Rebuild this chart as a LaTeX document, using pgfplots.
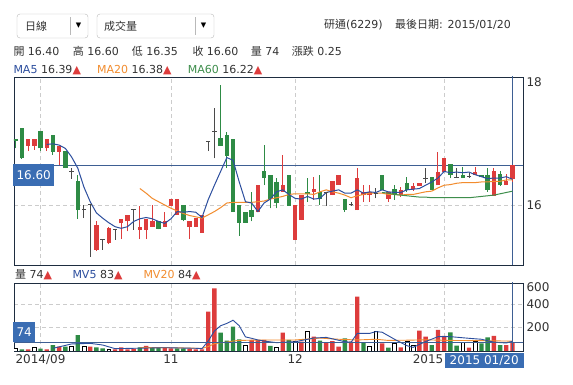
\documentclass[border=0pt]{standalone}
\usepackage{pgfplots}
\pgfplotsset{compat=1.18}
\usepackage{pgfplotstable}
\usepackage{fontspec}
\setmainfont{DejaVu Sans}
\newfontfamily\cjk{Noto Sans CJK TC}
\definecolor{cred}{HTML}{DD3C3C}
\definecolor{cgreen}{HTML}{2E8B45}
\definecolor{cdoji}{HTML}{4A4A4A}
\definecolor{ma5}{HTML}{2C4E9E}
\definecolor{ma20}{HTML}{F28C2E}
\definecolor{ma60}{HTML}{3E8E4C}
\definecolor{boxb}{HTML}{3A6DB3}
\definecolor{frame}{HTML}{1E2D40}
\definecolor{crossc}{HTML}{3E5F93}
\definecolor{gridc}{HTML}{CCCCCC}
\definecolor{txt}{HTML}{333333}
\newcommand\fs{\fontsize{11}{13}\selectfont}
\newcommand\tri{{\color{cred}▲}}
\pgfplotsset{
  candle/.style n args={2}{only marks, mark=*, mark size=0pt,
    mark options={draw opacity=0, fill opacity=0}, forget plot,
    error bars/.cd, y dir=plus, y explicit, error mark=none,
    error bar style={line width=#1, draw=#2, draw opacity=1}},
}

% candles: i low high bodylow bodyhigh
\pgfplotstableread{
i l h bl bh
2 16.82 17.01 16.90 17.01
3 16.84 17.01 16.90 17.01
5 16.82 17.01 16.86 17.01
7 16.61 16.90 16.81 16.90
13 15.30 15.75 15.32 15.70
15 15.40 15.67 15.42 15.65
17 15.48 15.79 15.72 15.79
18 15.60 15.85 15.75 15.85
20 15.48 15.99 15.62 15.67
21 15.48 15.79 15.62 15.79
22 15.67 16.00 15.67 15.75
24 15.67 15.90 15.67 15.75
25 15.99 16.09 15.99 16.09
26 15.85 16.09 15.85 16.09
28 15.48 15.75 15.67 15.75
29 15.67 15.80 15.67 15.80
30 15.58 15.85 15.58 15.85
39 15.89 16.31 15.89 16.31
43 16.20 16.76 16.20 16.30
45 15.47 16.00 15.47 16.00
46 15.77 16.15 15.77 16.15
48 16.08 16.43 16.20 16.24
51 16.15 16.36 16.15 16.36
52 16.31 16.46 16.31 16.46
55 15.92 16.56 15.92 16.41
56 16.05 16.30 16.15 16.20
57 16.05 16.30 16.15 16.19
60 16.05 16.20 16.09 16.20
62 16.12 16.27 16.15 16.23
64 16.22 16.33 16.24 16.29
65 16.29 16.34 16.29 16.34
68 16.30 16.81 16.30 16.50
69 16.50 16.71 16.50 16.71
74 16.45 16.58 16.46 16.50
77 16.14 16.56 16.14 16.51
79 16.30 16.47 16.30 16.37
80 16.35 16.60 16.40 16.60
}\redtab
\pgfplotstableread{
i l h bl bh
0 16.86 17.01 16.97 17.01
1 16.70 17.17 16.71 17.17
4 16.82 17.12 16.86 17.12
6 16.76 17.06 16.81 17.06
8 16.56 16.82 16.56 16.82
10 15.79 16.46 15.92 16.36
23 15.63 15.75 15.64 15.75
27 15.75 16.00 15.77 16.00
33 16.90 17.83 16.90 17.02
34 16.56 17.11 16.75 17.06
35 15.89 17.01 15.89 17.01
36 15.53 16.00 15.73 16.00
37 15.73 15.90 15.73 15.90
38 15.75 16.20 15.82 15.93
40 16.30 16.91 16.41 16.51
41 15.95 16.45 16.09 16.45
42 15.95 16.41 16.03 16.35
44 15.99 16.46 15.99 16.46
47 16.05 16.41 16.16 16.20
49 16.00 16.46 16.09 16.20
53 15.89 16.09 15.92 16.09
59 16.23 16.46 16.23 16.46
61 16.08 16.30 16.15 16.24
63 16.20 16.42 16.23 16.34
67 16.23 16.42 16.23 16.42
70 16.41 16.62 16.46 16.62
72 16.41 16.58 16.41 16.46
75 16.42 16.46 16.42 16.46
76 16.20 16.56 16.23 16.46
78 16.29 16.51 16.30 16.47
}\greentab
\pgfplotstableread{
i l h o
9 16.40 16.56 16.51
11 15.80 16.00 15.93
12 15.21 16.00 16.00
14 15.32 15.49 15.47
16 15.47 15.62 15.62
19 15.62 15.93 15.93
31 16.82 16.97 16.96
32 16.71 17.47 17.11
50 15.99 16.19 16.19
54 15.99 16.05 16.00
58 16.10 16.26 16.18
66 16.34 16.56 16.41
71 16.41 16.56 16.42
73 16.41 16.48 16.43
}\dojitab
\pgfplotstableread{
i v
2 14
5 14
7 37
12 37
16 14
17 31
18 14
19 20
21 43
24 31
25 23
28 20
29 14
30 14
31 335
32 533
38 94
39 94
40 94
43 156
46 79
48 122
50 71
51 85
52 37
54 79
55 462
59 65
62 30
65 173
66 122
68 179
69 128
73 28
77 128
79 51
80 74
}\vred
\pgfplotstableread{
i v
1 14
4 20
6 51
8 37
10 136
13 31
14 23
20 31
22 31
23 31
26 23
27 23
33 156
34 88
35 207
36 99
41 43
44 94
49 88
53 108
56 71
60 28
67 51
70 159
71 45
75 65
76 117
78 51
}\vgreen
\pgfplotstableread{
i v
0 20
3 28
9 37
11 43
15 14
37 51
42 31
45 79
47 170
57 43
58 170
61 65
63 79
64 51
72 74
74 79
}\vwhite

\begin{document}
\begin{tikzpicture}
\path[use as bounding box, fill=white] (0pt,0pt) rectangle (573pt,385pt);

% ---------------- main price panel
\begin{axis}[
  at={(14pt,120pt)}, anchor=south west, scale only axis,
  width=509pt, height=188pt,
  xmin=-0.27, xmax=81.69, ymin=15.088, ymax=17.945,
  axis line style={draw=frame, line width=0.8pt},
  xtick={4,25,45,69}, xticklabels={},
  ytick={16}, yticklabel pos=right,
  extra y ticks={17.87}, extra y tick labels={18},
  extra y tick style={grid=none},
  grid=major,
  major grid style={gridc, dash pattern=on 4pt off 3pt, line width=0.7pt},
  major tick length=0pt,
  tick label style={font=\fontsize{12}{14}\selectfont, text=txt},
  /pgf/number format/assume math mode=true,
]
% crosshair
\addplot[crossc, line width=0.8pt, forget plot] coordinates {(-1,16.6) (83,16.6)};
\addplot[crossc, line width=0.8pt, forget plot] coordinates {(80,15) (80,18)};
% wicks
\addplot[candle={1pt}{cred}] table[x=i, y=l, y error expr=\thisrow{h}-\thisrow{l}] \redtab;
\addplot[candle={1pt}{cgreen}] table[x=i, y=l, y error expr=\thisrow{h}-\thisrow{l}] \greentab;
\addplot[candle={1pt}{cdoji}] table[x=i, y=l, y error expr=\thisrow{h}-\thisrow{l}] \dojitab;
% bodies
\addplot[candle={4.4pt}{cred}] table[x=i, y=bl, y error expr=\thisrow{bh}-\thisrow{bl}] \redtab;
\addplot[candle={4.4pt}{cgreen}] table[x=i, y=bl, y error expr=\thisrow{bh}-\thisrow{bl}] \greentab;
\addplot[only marks, mark=-, mark size=2.2pt, forget plot,
  mark options={draw=cdoji, line width=1pt}]
  table[x=i, y=o] \dojitab;
% moving averages
\addplot[ma20, line width=1pt, forget plot] table {
20 16.25
21 16.18
22 16.10
23 16.05
24 16.00
25 15.95
26 15.91
27 15.87
28 15.84
29 15.82
30 15.80
31 15.85
32 15.90
33 15.96
34 16.03
35 16.04
36 16.04
37 16.04
38 16.04
39 16.05
40 16.06
41 16.09
42 16.11
43 16.13
44 16.16
45 16.17
46 16.17
47 16.17
48 16.16
49 16.20
50 16.23
51 16.20
52 16.18
53 16.15
54 16.11
55 16.14
56 16.16
57 16.18
58 16.18
59 16.18
60 16.16
61 16.16
62 16.15
63 16.16
64 16.16
65 16.18
66 16.20
67 16.21
68 16.26
69 16.30
70 16.31
71 16.33
72 16.34
73 16.34
74 16.34
75 16.35
76 16.35
77 16.36
78 16.36
79 16.38
80 16.38
};
\addplot[ma60, line width=1pt, forget plot] table {
59 16.19
60 16.18
61 16.16
62 16.15
63 16.14
64 16.13
65 16.12
66 16.12
67 16.11
68 16.11
69 16.11
70 16.11
71 16.11
72 16.11
73 16.11
74 16.12
75 16.13
76 16.14
77 16.15
78 16.17
79 16.19
80 16.21
};
\addplot[ma5, line width=1pt, forget plot] table {
5 16.92
6 16.93
7 16.91
8 16.86
9 16.73
10 16.56
11 16.27
12 16.05
13 15.88
14 15.80
15 15.73
16 15.67
17 15.645
18 15.67
19 15.75
20 15.79
21 15.81
22 15.79
23 15.75
24 15.72
25 15.79
26 15.90
27 15.89
28 15.90
29 15.89
30 15.81
31 16.08
32 16.30
33 16.51
34 16.72
35 16.68
36 16.35
37 16.05
38 16.03
39 15.90
40 16.03
41 16.09
42 16.20
43 16.23
44 16.16
45 16.10
46 16.09
47 16.13
48 16.09
49 16.10
50 16.19
51 16.21
52 16.23
53 16.18
54 16.18
55 16.23
56 16.18
57 16.20
58 16.19
59 16.23
60 16.20
61 16.19
62 16.19
63 16.23
64 16.24
65 16.25
66 16.30
67 16.35
68 16.41
69 16.51
70 16.49
71 16.50
72 16.49
73 16.50
74 16.46
75 16.43
76 16.40
77 16.41
78 16.41
79 16.43
80 16.39
};
\end{axis}

% ---------------- volume panel
\begin{axis}[
  at={(14pt,34pt)}, anchor=south west, scale only axis,
  width=509pt, height=68pt,
  xmin=-0.27, xmax=81.69, ymin=0, ymax=579,
  axis line style={draw=frame, line width=0.8pt},
  xtick={4,25,45,69}, xticklabels={2014/09,11,12,{}},
  extra x ticks={66.4}, extra x tick labels={2015},
  extra x tick style={grid=none},
  ytick={200,400}, yticklabel pos=right,
  extra y ticks={545}, extra y tick labels={600},
  extra y tick style={grid=none},
  grid=major,
  major grid style={gridc, dash pattern=on 4pt off 3pt, line width=0.7pt},
  major tick length=0pt,
  tick label style={font=\fontsize{12}{14}\selectfont, text=txt},
  /pgf/number format/assume math mode=true,
]
\addplot[ybar, bar width=4.4pt, bar shift=0pt, fill=cred, draw=none, forget plot] table[x=i, y=v] \vred;
\addplot[ybar, bar width=4.4pt, bar shift=0pt, fill=cgreen, draw=none, forget plot] table[x=i, y=v] \vgreen;
\addplot[ybar, bar width=3.8pt, bar shift=0pt, fill=white, draw=black, line width=0.6pt, forget plot] table[x=i, y=v] \vwhite;
\addplot[ma20, line width=0.9pt, forget plot] table {
20 30
25 28
28 25
30 22
31 38
32 62
33 70
34 75
35 85
36 90
38 92
40 94
45 94
49 110
52 100
55 94
58 100
60 90
63 92
66 95
70 90
75 88
80 84
};
\addplot[ma5, line width=0.9pt, forget plot] table {
6 23
9 60
12 65
14 51
16 20
19 23
24 28
29 23
30 20
31 85
32 170
33 215
34 235
35 262
36 215
37 120
38 108
39 94
40 85
42 71
45 79
48 110
50 116
53 79
54 75
55 150
57 150
58 165
59 160
61 100
63 45
64 31
66 80
68 122
70 122
73 108
75 100
77 75
79 68
80 83
};
\addplot[crossc, line width=0.8pt, forget plot] coordinates {(-1,74) (83,74)};
\addplot[crossc, line width=0.8pt, forget plot] coordinates {(80,0) (80,600)};
\end{axis}

% ---------------- labels on the panels
\node[fill=boxb, text=white, anchor=north west, inner sep=0pt, minimum width=41pt, minimum height=22pt, font=\fontsize{12}{14}\selectfont] at (13pt,221pt) {16.60};
\node[fill=boxb, text=white, anchor=north west, inner sep=0pt, minimum width=22pt, minimum height=20pt, font=\fontsize{12}{14}\selectfont] at (13pt,63pt) {74};
\node[fill=boxb, text=white, anchor=north west, inner sep=0pt, minimum width=79pt, minimum height=15pt, font=\fontsize{12}{14}\selectfont] at (444.5pt,32pt) {2015 01/20};

% ---------------- header controls
\draw[gray!55, fill=white, rounded corners=3pt] (17pt,347pt) rectangle (88pt,371pt);
\draw[gray!55] (70pt,350pt) -- (70pt,368pt);
\node[anchor=west, inner sep=0pt, text=txt, font=\fs\cjk] at (25pt,359pt) {日線};
\node[inner sep=0pt, font=\fontsize{7}{8}\selectfont] at (78.5pt,359pt) {▼};
\draw[gray!55, fill=white, rounded corners=3pt] (97pt,347pt) rectangle (214pt,371pt);
\draw[gray!55] (195pt,350pt) -- (195pt,368pt);
\node[anchor=west, inner sep=0pt, text=txt, font=\fs\cjk] at (104pt,359pt) {成交量};
\node[inner sep=0pt, font=\fontsize{7}{8}\selectfont] at (203.5pt,359pt) {▼};
\node[anchor=base west, inner sep=0pt, text=txt, font=\fs] at (324pt,356.7pt) {{\cjk 研通}(6229)};
\node[anchor=base west, inner sep=0pt, text=txt, font=\fs] at (395pt,356.7pt) {{\cjk 最後日期}: 2015/01/20};

% OHLC line
\begin{scope}[every node/.style={anchor=base west, inner sep=0pt, text=txt, font=\fs}]
\node at (13.3pt,329.3pt) {{\cjk 開} 16.40};
\node at (72.7pt,329.3pt) {{\cjk 高} 16.60};
\node at (131.7pt,329.3pt) {{\cjk 低} 16.35};
\node at (192.3pt,329.3pt) {{\cjk 收} 16.60};
\node at (250.7pt,329.3pt) {{\cjk 量} 74};
\node at (291.7pt,329.3pt) {{\cjk 漲跌} 0.25};
% MA line
\node at (13.3pt,311.7pt) {{\color{ma5}MA5} 16.39\tri};
\node at (97pt,311.7pt) {{\color{ma20}MA20} 16.38\tri};
\node at (187.7pt,311.7pt) {{\color{ma60}MA60} 16.22\tri};
% volume legend
\node at (15pt,106.7pt) {{\cjk 量} 74\tri};
\node at (72.3pt,106.7pt) {{\color{ma5}MV5} 83\tri};
\node at (143.3pt,106.7pt) {{\color{ma20}MV20} 84\tri};
\end{scope}
\end{tikzpicture}
\end{document}
